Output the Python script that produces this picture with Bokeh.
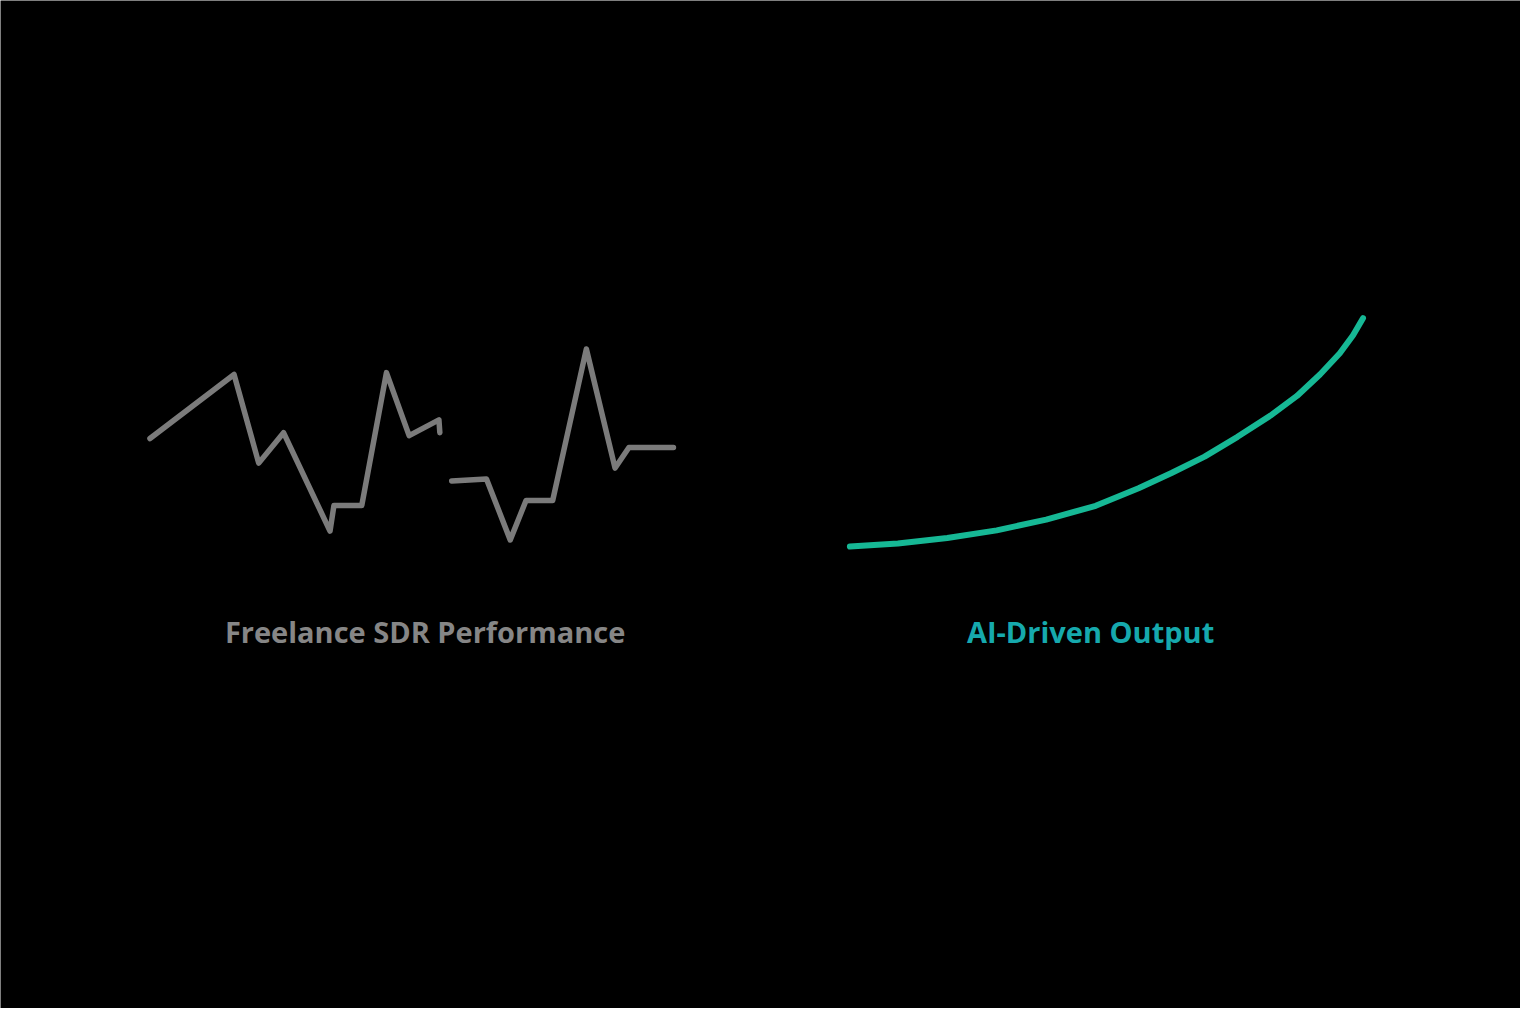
from bokeh.plotting import figure
from bokeh.models import Range1d
from bokeh.core.properties import value
from bokeh.embed import file_html
from bokeh.resources import INLINE

# Freelance SDR performance (two erratic stretches, gap between them)
sdr_x_a = [9.41, 15.00, 16.64, 18.29, 21.38, 21.64, 23.49, 25.13, 26.64, 28.62, 28.68]
sdr_y_a = [56.65, 63.10, 54.17, 57.24, 47.32, 49.90, 49.90, 63.29, 56.94, 58.53, 57.24]
sdr_x_b = [29.47, 31.78, 33.36, 34.41, 36.18, 38.42, 40.33, 41.25, 44.21]
sdr_y_b = [52.38, 52.58, 46.43, 50.40, 50.40, 65.67, 53.67, 55.75, 55.75]

# AI-driven output (smooth accelerating curve)
ai_x = [55.94, 59.13, 62.41, 65.70, 68.99, 72.28, 75.13, 77.32, 79.52, 81.71,
        83.90, 85.66, 87.19, 88.51, 89.39, 90.05]
ai_y = [45.76, 46.06, 46.63, 47.39, 48.48, 49.87, 51.64, 53.17, 54.83, 56.82,
        58.96, 60.94, 63.10, 65.25, 67.06, 68.78]

labels = ["Freelance SDR Performance", "AI-Driven Output"]
label_x = [27.7, 71.94]
label_y = [37.2, 37.2]

p = figure(width=1520, height=1008, output_backend="svg", toolbar_location=None,
           x_range=Range1d(-0.526, 100.52), y_range=Range1d(-0.793, 100.794),
           min_border=0)
p.background_fill_color = "#000000"
p.border_fill_color = "#000000"
p.outline_line_color = None
p.xgrid.visible = False
p.ygrid.visible = False
p.xaxis.visible = False
p.yaxis.visible = False

gray = "#7b7b7b"
teal = "#16b895"

for xs, ys in ((sdr_x_a, sdr_y_a), (sdr_x_b, sdr_y_b)):
    p.line(xs, ys, line_color=gray, line_width=5.5, line_join="round", line_cap="round")

p.line(ai_x, ai_y, line_color=teal, line_width=6, line_join="round", line_cap="round")

p.text(x=[label_x[0]], y=[label_y[0]], text=[labels[0]], text_color="#868686",
       text_font=value("Open Sans"), text_font_size="29px", text_font_style="bold",
       text_align="center", text_baseline="middle")
p.text(x=[label_x[1]], y=[label_y[1]], text=[labels[1]], text_color="#16a9ad",
       text_font=value("Open Sans"), text_font_size="29px", text_font_style="bold",
       text_align="center", text_baseline="middle")

open("out.html", "w").write(file_html(p, INLINE))
